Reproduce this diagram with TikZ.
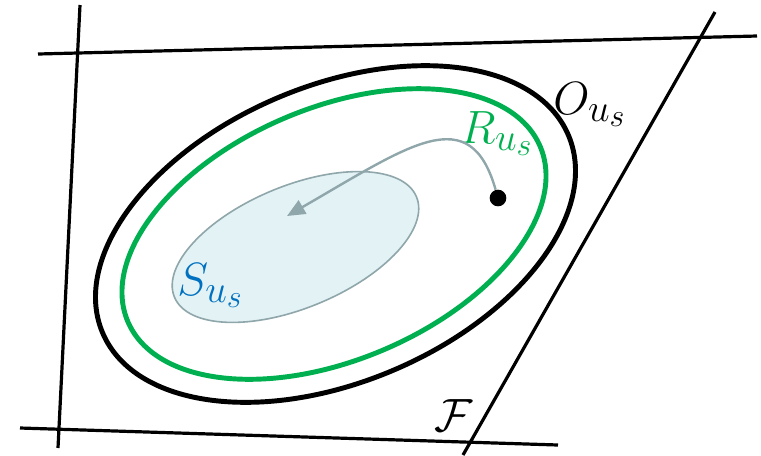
\documentclass[tikz,border=0pt]{standalone}
\usepackage{fix-cm}
\usetikzlibrary{arrows.meta}
\DeclareMathSizes{35}{35}{29}{24}
\definecolor{sgreen}{RGB}{0,176,80}
\definecolor{sblue}{RGB}{0,112,192}
\definecolor{sgray}{RGB}{143,166,170}
\definecolor{sfill}{RGB}{227,243,245}
\begin{document}
\begin{tikzpicture}[x=0.75pt,y=-0.75pt,
  bound/.style={line width=2.4pt,black},
  ring/.style={line width=3.7pt},
  lab/.style={anchor=base west,inner sep=0pt,font=\fontsize{35}{40}\selectfont},
  flow/.style={sgray,line width=1.8pt,-{Triangle[length=13.5pt,width=11.5pt]}}]
\useasboundingbox (0,0) rectangle (761,455);
% feasible region boundaries
\coordinate (t1) at (38,54);
\coordinate (t2) at (757,36);
\coordinate (l1) at (80,5);
\coordinate (l2) at (58,448);
\coordinate (b1) at (20,428);
\coordinate (b2) at (558,445);
\coordinate (r1) at (715,12);
\coordinate (r2) at (463,455);
\draw[bound] (t1) -- (t2);
\draw[bound] (l1) -- (l2);
\draw[bound] (b1) -- (b2);
\draw[bound] (r1) -- (r2);
% ellipses
\coordinate (co) at (335.5,234);
\coordinate (cr) at (334,234);
\coordinate (cs) at (295.5,247);
\draw[ring,black,rotate around={23:(co)}] (co) ellipse [x radius=253, y radius=148];
\draw[ring,sgreen,rotate around={23:(cr)}] (cr) ellipse [x radius=224, y radius=126];
\draw[sgray,line width=1.2pt,fill=sfill,rotate around={22.5:(cs)}] (cs) ellipse [x radius=131, y radius=61];
% labels
\node[lab] (O) at (553,114) {$O_{u_s}$};
\node[lab,text=sgreen] (R) at (460,143) {$R_{u_s}$};
\node[lab,text=sblue] (S) at (177,295) {$S_{u_s}$};
\node[lab] (F) at (434,431) {$\mathcal{F}$};
% trajectory
\node[circle,fill=black,inner sep=0pt,minimum size=12.5pt] (dot) at (498,198) {};
\coordinate (tip) at (287,216);
\draw[flow] (dot) .. controls (470,100) and (410,145) .. (tip);
\end{tikzpicture}
\end{document}
